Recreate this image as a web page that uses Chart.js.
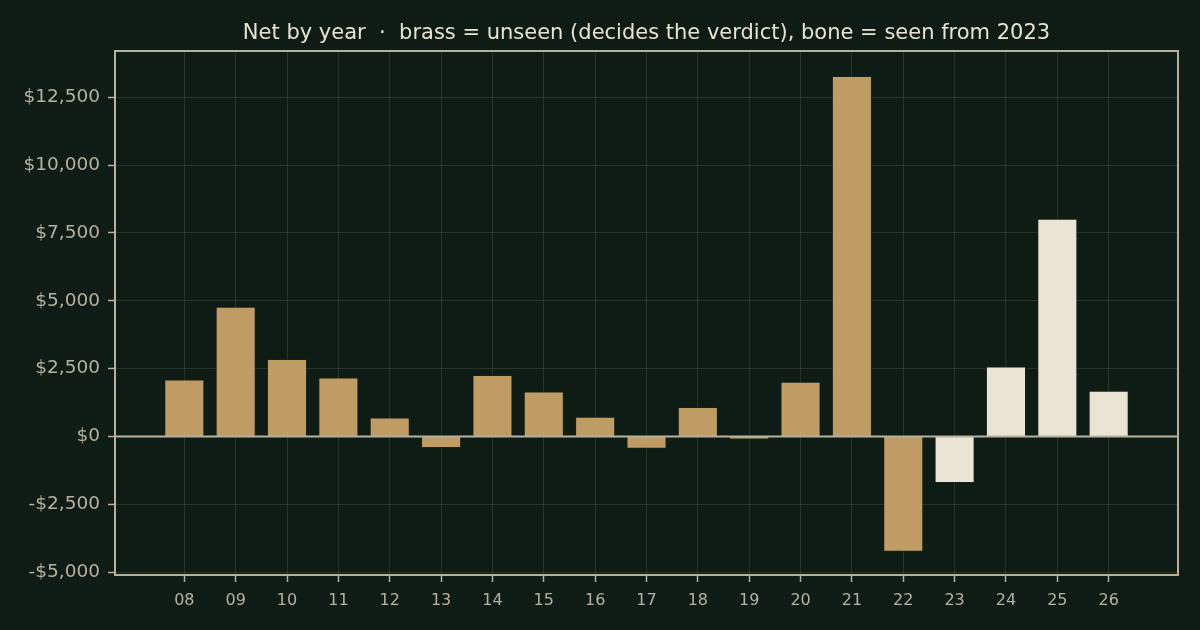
<!DOCTYPE html>
<html>
<head>
<meta charset="utf-8">
<title>Net by year</title>
<script src="https://cdn.jsdelivr.net/npm/chart.js@4.4.1/dist/chart.umd.min.js"></script>
<style>
    html, body { margin: 0; padding: 0; background: #0f1c16; }
    #wrap { width: 1200px; height: 630px; }
</style>
</head>
<body>
<div id="wrap"><canvas id="netChart"></canvas></div>
<script>
// Chart data
const years = [8, 9, 10, 11, 12, 13, 14, 15, 16, 17, 18, 19, 20, 21, 22, 23, 24, 25, 26];
const netValues = [2100, 4780, 2860, 2170, 700, -420, 2270, 1660, 725, -450, 1090, -110, 2020, 13280, -4240, -1710, 2580, 8020, 1690];
const seenFrom = 23;
const yTicks = [-5000, -2500, 0, 2500, 5000, 7500, 10000, 12500];
const titleText = 'Net by year  \u00b7  brass = unseen (decides the verdict), bone = seen from 2023';

// Colours
const bgColor = '#0f1c16';
const brass = 'rgba(197, 161, 103, 0.97)';
const bone = 'rgba(241, 235, 219, 0.97)';
const frameColor = '#b5b19e';
const gridColor = 'rgba(200, 205, 185, 0.13)';
const tickText = '#b5b19e';
const titleColor = '#e8e2d0';

// Background, frame, zero line and title
const decorPlugin = {
    id: 'decor',
    beforeDraw(chart) {
        const ctx = chart.ctx;
        ctx.save();
        ctx.fillStyle = bgColor;
        ctx.fillRect(0, 0, chart.width, chart.height);
        ctx.restore();
    },
    afterDatasetsDraw(chart) {
        const ctx = chart.ctx;
        const area = chart.chartArea;
        const y0 = chart.scales.y.getPixelForValue(0);
        ctx.save();
        ctx.strokeStyle = frameColor;
        ctx.lineWidth = 2;
        ctx.beginPath();
        ctx.moveTo(area.left, y0);
        ctx.lineTo(area.right, y0);
        ctx.stroke();
        ctx.strokeRect(area.left, area.top, area.right - area.left, area.bottom - area.top);

        ctx.fillStyle = titleColor;
        ctx.font = '21px "DejaVu Sans"';
        ctx.textAlign = 'center';
        ctx.textBaseline = 'alphabetic';
        ctx.fillText(titleText, (area.left + area.right) / 2, 39);
        ctx.restore();
    }
};

const ctx = document.getElementById('netChart');

new Chart(ctx, {
    type: 'bar',
    data: {
        datasets: [{
            label: 'Net',
            data: years.map(function(yr, i) { return { x: yr, y: netValues[i] }; }),
            backgroundColor: years.map(function(yr) { return yr >= seenFrom ? bone : brass; }),
            borderColor: 'rgba(25, 35, 28, 0.8)',
            borderWidth: 1,
            categoryPercentage: 1,
            barPercentage: 0.78
        }]
    },
    options: {
        responsive: true,
        maintainAspectRatio: false,
        animation: false,
        layout: {
            padding: { top: 51, right: 22, bottom: 0, left: 0 }
        },
        plugins: {
            legend: { display: false },
            title: { display: false },
            tooltip: { enabled: false }
        },
        scales: {
            x: {
                type: 'linear',
                min: 6.65,
                max: 27.35,
                offset: false,
                afterBuildTicks: function(scale) {
                    scale.ticks = years.map(function(v) { return { value: v }; });
                },
                afterFit: function(scale) {
                    scale.height = 55;
                },
                border: { display: false },
                grid: {
                    offset: false,
                    color: gridColor,
                    lineWidth: 1,
                    tickLength: 7,
                    tickColor: frameColor,
                    tickWidth: 1.5
                },
                ticks: {
                    color: tickText,
                    padding: 9,
                    maxRotation: 0,
                    autoSkip: false,
                    font: { family: 'DejaVu Sans', size: 16 },
                    callback: function(value) {
                        return String(value).padStart(2, '0');
                    }
                }
            },
            y: {
                min: -5100,
                max: 14200,
                afterBuildTicks: function(scale) {
                    scale.ticks = yTicks.map(function(v) { return { value: v }; });
                },
                afterFit: function(scale) {
                    scale.width = 115;
                },
                border: { display: false },
                grid: {
                    color: gridColor,
                    lineWidth: 1,
                    tickLength: 7,
                    tickColor: frameColor,
                    tickWidth: 1.5
                },
                ticks: {
                    color: tickText,
                    padding: 8,
                    font: { family: 'DejaVu Sans', size: 18.5 },
                    callback: function(value) {
                        const abs = Math.abs(value).toLocaleString('en-US');
                        return (value < 0 ? '-$' : '$') + abs;
                    }
                }
            }
        }
    },
    plugins: [decorPlugin]
});
</script>
</body>
</html>
